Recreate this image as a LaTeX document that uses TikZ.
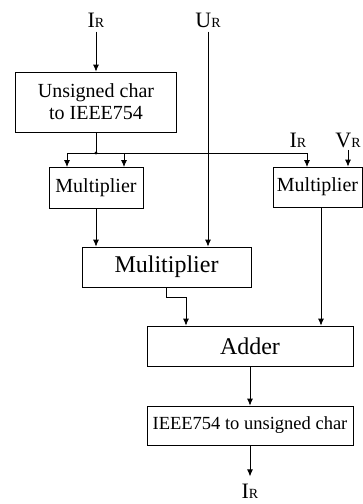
\documentclass[tikz,border=0pt]{standalone}
\usepackage{fontspec}
\setmainfont{Liberation Serif}
\usetikzlibrary{arrows.meta}
\tikzstyle{block}=[rectangle, draw, inner sep=0pt, align=center]
\tikzstyle{sig}=[inner sep=4pt, font=\fontsize{22}{22}\selectfont]
\tikzstyle{arr}=[-{Latex[length=7pt,width=6pt]}]
\newcommand{\lbl}[2]{#1{\fontsize{14}{14}\selectfont #2}}

\begin{document}
\begin{tikzpicture}[x=1pt,y=-1pt,line width=0.8pt]
\useasboundingbox (0,0) rectangle (363,504);
\def \fs {\fontsize{20}{22}\selectfont}
\def \fb {\fontsize{24}{24}\selectfont}
% blocks
\node[block, minimum width=161pt, minimum height=60pt, font=\fs] (conv) at (96,102) {Unsigned char\\to IEEE754};
\node[block, minimum width=94pt, minimum height=41pt, font=\fs] (mulA) at (96,187.5) {Multiplier};
\node[block, minimum width=89pt, minimum height=40pt, font=\fs] (mulB) at (317.5,187) {Multiplier};
\node[block, minimum width=169pt, minimum height=40pt, font=\fb] (mulC) at (166.5,267) {Mulitiplier};
\node[block, minimum width=206pt, minimum height=40pt, font=\fb] (add) at (250,346) {Adder};
\node[block, minimum width=206pt, minimum height=39pt, font=\fontsize{18.5}{18.5}\selectfont] (back) at (250,425.5) {IEEE754 to unsigned char};
% signals
\node[sig] (inI) at (96,20) {\lbl{I}{R}};
\node[sig] (inU) at (208,20) {\lbl{U}{R}};
\node[sig] (inI2) at (298,140) {\lbl{I}{R}};
\node[sig] (inV) at (348,140) {\lbl{V}{R}};
\node[sig, inner sep=2pt] (outI) at (250,491) {\lbl{I}{R}};
\coordinate (jn) at (96,153);
\coordinate (a1) at (67,167);
\coordinate (a2) at (124,167);
\coordinate (a3) at (307,167);
% wires
\draw[arr] (inI) -- (conv);
\draw (conv) -- (jn);
\draw[arr] (jn) -| (a1);
\draw[arr] (jn) -| (a3);
\draw[arr] (a2 |- jn) -- (a2);
\fill (jn) circle (1.6);
\draw[arr] (inU) -- (inU |- mulC.north);
\draw[arr] ([yshift=2pt]inV.south) -- (inV |- mulB.north);
\draw[arr] (mulA) -- (mulA |- mulC.north);
\draw[arr] ([xshift=3.5pt]mulB.south) -- ([xshift=3.5pt]mulB.south |- add.north);
\draw[arr] (mulC.south) -- ++(0,10) -| ([xshift=-64pt]add.north);
\draw[arr] (add) -- (back);
\draw[arr, shorten >=5pt] (back) -- (outI);
\end{tikzpicture}
\end{document}
